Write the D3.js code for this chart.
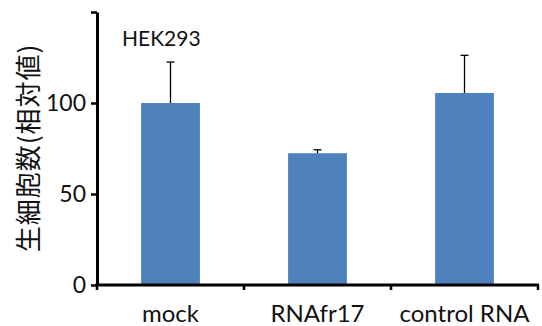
<!DOCTYPE html>
<html>
<head>
<meta charset="utf-8">
<script src="https://cdn.jsdelivr.net/npm/d3@7"></script>
<style>
  html, body { margin: 0; padding: 0; background: #fff; }
  svg { display: block; }
</style>
</head>
<body>
<svg id="chart" width="542" height="326"></svg>
<script>
const categories = ["mock", "RNAfr17", "control RNA"];
const values = [100, 72.4, 105.5];
const errors = [22.5, 1.9, 20.7];
const yTicks = [0, 50, 100, 150];
const yTickLabels = ["0", "50", "100", ""];
const yLabel = "生細胞数(相対値)";
const title = "HEK293";

const svg = d3.select("#chart");
const x0 = 97, x1 = 538, yTop = 12, yBottom = 285;
const latin = "Lato, 'Open Sans', sans-serif";

const y = d3.scaleLinear().domain([0, 150]).range([yBottom, yTop]);
const x = d3.scaleBand().domain(categories).range([x0, x1]).paddingInner(0.6).paddingOuter(0.3);

// bars
svg.selectAll("rect.bar").data(categories).join("rect")
  .attr("class", "bar")
  .attr("x", d => x(d))
  .attr("width", x.bandwidth())
  .attr("y", (d, i) => y(values[i]))
  .attr("height", (d, i) => y(0) - y(values[i]))
  .attr("fill", "#4F81BD");

// error bars
const eg = svg.append("g").attr("stroke", "#000").attr("stroke-width", 1.3);
categories.forEach((c, i) => {
  const cx = x(c) + x.bandwidth() / 2;
  eg.append("line").attr("x1", cx).attr("x2", cx).attr("y1", y(values[i])).attr("y2", y(values[i] + errors[i]));
  eg.append("line").attr("x1", cx - 4).attr("x2", cx + 4).attr("y1", y(values[i] + errors[i])).attr("y2", y(values[i] + errors[i]));
});

// y axis
const yAxis = d3.axisLeft(y).tickValues(yTicks).tickFormat((d, i) => yTickLabels[i]).tickSizeInner(6).tickSizeOuter(0).tickPadding(5);
const gy = svg.append("g").attr("transform", `translate(${x0},0)`).call(yAxis);
gy.select(".domain").attr("stroke", "#000").attr("stroke-width", 3);
gy.selectAll(".tick line").attr("stroke", "#000").attr("stroke-width", 2.5);
gy.selectAll(".tick text").attr("font-family", latin).attr("font-size", 23).attr("fill", "#111");

// x axis
const boundaries = [x0, x0 + x.step(), x0 + 2 * x.step(), x1];
svg.append("line").attr("x1", x0 - 1.5).attr("x2", x1 + 1).attr("y1", yBottom).attr("y2", yBottom)
  .attr("stroke", "#000").attr("stroke-width", 3);
svg.selectAll("line.xt").data(boundaries).join("line").attr("class", "xt")
  .attr("x1", d => d).attr("x2", d => d).attr("y1", yBottom).attr("y2", yBottom + 5)
  .attr("stroke", "#000").attr("stroke-width", 2.5);
svg.selectAll("text.xl").data(categories).join("text").attr("class", "xl")
  .attr("x", d => x(d) + x.bandwidth() / 2).attr("y", 322)
  .attr("text-anchor", "middle").attr("font-family", latin).attr("font-size", 24).attr("fill", "#111")
  .text(d => d);

// title
svg.append("text").attr("x", 122).attr("y", 46).attr("font-family", latin).attr("font-size", 21)
  .attr("fill", "#111").text(title);

// y label
svg.append("text").attr("transform", "translate(38,148) rotate(-90)")
  .attr("text-anchor", "middle").attr("font-family", "'Noto Sans CJK JP', sans-serif").attr("font-size", 26)
  .attr("letter-spacing", 1).attr("fill", "#111").text(yLabel);
</script>
</body>
</html>
